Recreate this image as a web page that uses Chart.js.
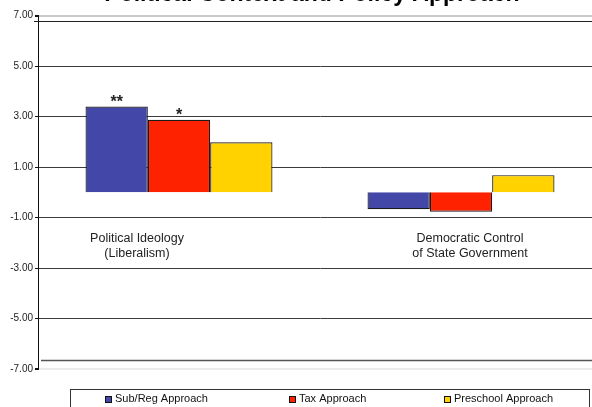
<!DOCTYPE html>
<html>
<head>
<meta charset="utf-8">
<title>Political Context and Policy Approach</title>
<script src="https://cdn.jsdelivr.net/npm/chart.js@4.4.1/dist/chart.umd.min.js"></script>
<style>
  html, body { margin: 0; padding: 0; background: #fff; overflow: hidden; }
  body { width: 592px; height: 407px; position: relative; }
  /* canvas is a bit larger than the page; title, legend and right edge run off it */
  #wrap { position: absolute; left: -16px; top: -20px; width: 656px; height: 450px; }
</style>
</head>
<body>
<div id="wrap"><canvas id="policyChart"></canvas></div>
<script>
const categories = [['Political Ideology', '(Liberalism)'], ['Democratic Control', 'of State Government']];
const seriesNames = ['Sub/Reg Approach', 'Tax Approach', 'Preschool Approach'];
const subRegValues = [3.40, -0.67];
const taxValues = [2.87, -0.77];
const preschoolValues = [1.98, 0.68];
// significance markers printed above the bars
const subRegStars = ['**', ''];
const taxStars = ['*', ''];
const preschoolStars = ['', ''];
const yTicks = [7, 5, 3, 1, -1, -3, -5, -7];

const FONT = 'Arial, "Liberation Sans", sans-serif';
Chart.defaults.font.family = FONT;

// dark rules just inside the top and bottom of the plot
const frameLines = {
    id: 'frameLines',
    beforeDatasetsDraw(chart, args, opts) {
        const { ctx, chartArea, scales: { y } } = chart;
        ctx.save();
        opts.lines.forEach(l => {
            const py = Math.round(y.getPixelForValue(l.value)) + 0.5;
            ctx.strokeStyle = l.color;
            ctx.lineWidth = l.width;
            ctx.beginPath();
            ctx.moveTo(chartArea.left + l.inset, py);
            ctx.lineTo(chartArea.right, py);
            ctx.stroke();
        });
        ctx.restore();
    }
};

// category captions sit below the zero line
const categoryText = {
    id: 'categoryText',
    afterDraw(chart, args, opts) {
        const { ctx, scales: { x, y } } = chart;
        const base = y.getPixelForValue(0) + opts.offsetY;
        ctx.save();
        ctx.font = `${opts.size}px ${FONT}`;
        ctx.fillStyle = '#222';
        ctx.textAlign = 'center';
        ctx.textBaseline = 'middle';
        chart.data.labels.forEach((lines, i) => {
            const cx = x.getPixelForValue(i) + opts.shiftX[i];
            lines.forEach((t, j) => ctx.fillText(t, cx, base + j * opts.lineHeight));
        });
        ctx.restore();
    }
};

const starMarks = {
    id: 'starMarks',
    afterDatasetsDraw(chart) {
        const { ctx } = chart;
        ctx.save();
        ctx.font = `bold 16px ${FONT}`;
        ctx.fillStyle = '#222';
        ctx.textAlign = 'center';
        ctx.textBaseline = 'middle';
        chart.data.datasets.forEach((ds, d) => {
            chart.getDatasetMeta(d).data.forEach((bar, i) => {
                const mark = ds.stars[i];
                if (mark) ctx.fillText(mark, bar.x, bar.y - 4);
            });
        });
        ctx.restore();
    }
};

// boxed legend, one entry per third of the box
const boxLegend = {
    id: 'boxLegend',
    afterDraw(chart, args, opts) {
        const { ctx, chartArea } = chart;
        const top = chartArea.bottom + opts.gap;
        const left = chartArea.left + opts.left;
        const w = opts.width;
        ctx.save();
        ctx.strokeStyle = '#333';
        ctx.lineWidth = 1;
        ctx.strokeRect(left + 0.5, Math.round(top) + 0.5, w, 40);
        ctx.font = `11px ${FONT}`;
        ctx.textBaseline = 'middle';
        ctx.textAlign = 'left';
        const cy = top + 10;
        const third = w / chart.data.datasets.length;
        chart.data.datasets.forEach((ds, i) => {
            const tw = ctx.measureText(ds.label).width;
            const itemW = 7 + 3 + tw;
            const x0 = Math.round(left + third * i + (third - itemW) / 2 - 2 * i);
            ctx.fillStyle = ds.backgroundColor;
            ctx.fillRect(x0, Math.round(cy - 3.5), 7, 7);
            ctx.strokeStyle = '#111';
            ctx.strokeRect(x0 + 0.5, Math.round(cy - 3.5) + 0.5, 6, 6);
            ctx.fillStyle = '#111';
            ctx.fillText(ds.label, x0 + 10, cy);
        });
        ctx.restore();
    }
};

const barStyle = {
    borderColor: '#1a1a1a',
    borderWidth: 1.2,
    categoryPercentage: 0.663,
    barPercentage: 1.0
};

new Chart(document.getElementById('policyChart'), {
    type: 'bar',
    data: {
        labels: categories,
        datasets: [
            { label: seriesNames[0], data: subRegValues, stars: subRegStars, backgroundColor: '#4347A8', ...barStyle },
            { label: seriesNames[1], data: taxValues, stars: taxStars, backgroundColor: '#FF2200', ...barStyle },
            { label: seriesNames[2], data: preschoolValues, stars: preschoolStars, backgroundColor: '#FFD200', ...barStyle }
        ]
    },
    options: {
        responsive: true,
        maintainAspectRatio: false,
        animation: false,
        layout: { padding: { left: 0, right: 0, top: 0, bottom: 61 } },
        plugins: {
            legend: { display: false },
            tooltip: { enabled: false },
            title: {
                display: true,
                text: 'Political Context and Policy Approach',
                color: '#000',
                font: { size: 23, weight: 'bold', family: FONT },
                padding: { top: 1, bottom: 7 }
            },
            frameLines: {
                lines: [
                    { value: 6.8, color: '#222', width: 1.2, inset: -4 },
                    { value: -6.65, color: '#555', width: 1.5, inset: 3 }
                ]
            },
            categoryText: { offsetY: 46, lineHeight: 15, size: 12.5, shiftX: [-42, 9] },
            boxLegend: { left: 32, width: 519, gap: 20 }
        },
        scales: {
            x: {
                display: false,
                grid: { display: false }
            },
            y: {
                min: -7,
                max: 7,
                afterBuildTicks: s => { s.ticks = yTicks.map(v => ({ value: v })); },
                afterFit: s => { s.width = 54; },
                border: { display: true, color: '#111', width: 1 },
                grid: {
                    drawTicks: true,
                    tickLength: 3,
                    tickColor: '#111',
                    color: c => (Math.abs(c.tick.value) === 7 ? (c.tick.value > 0 ? '#cacaca' : '#ececec') : '#3a3a3a'),
                    lineWidth: c => (Math.abs(c.tick.value) === 7 ? 2 : 1)
                },
                ticks: {
                    padding: 2,
                    color: '#222',
                    font: { size: 10, family: FONT },
                    callback: v => v.toFixed(2)
                }
            },
            // empty right-hand margin; keeps the plot edge while the title stays centred on the page
            yRight: {
                position: 'right',
                grid: { display: false },
                border: { display: false },
                ticks: { display: false },
                afterFit: s => { s.width = 38; }
            }
        }
    },
    plugins: [frameLines, categoryText, starMarks, boxLegend]
});
</script>
</body>
</html>
